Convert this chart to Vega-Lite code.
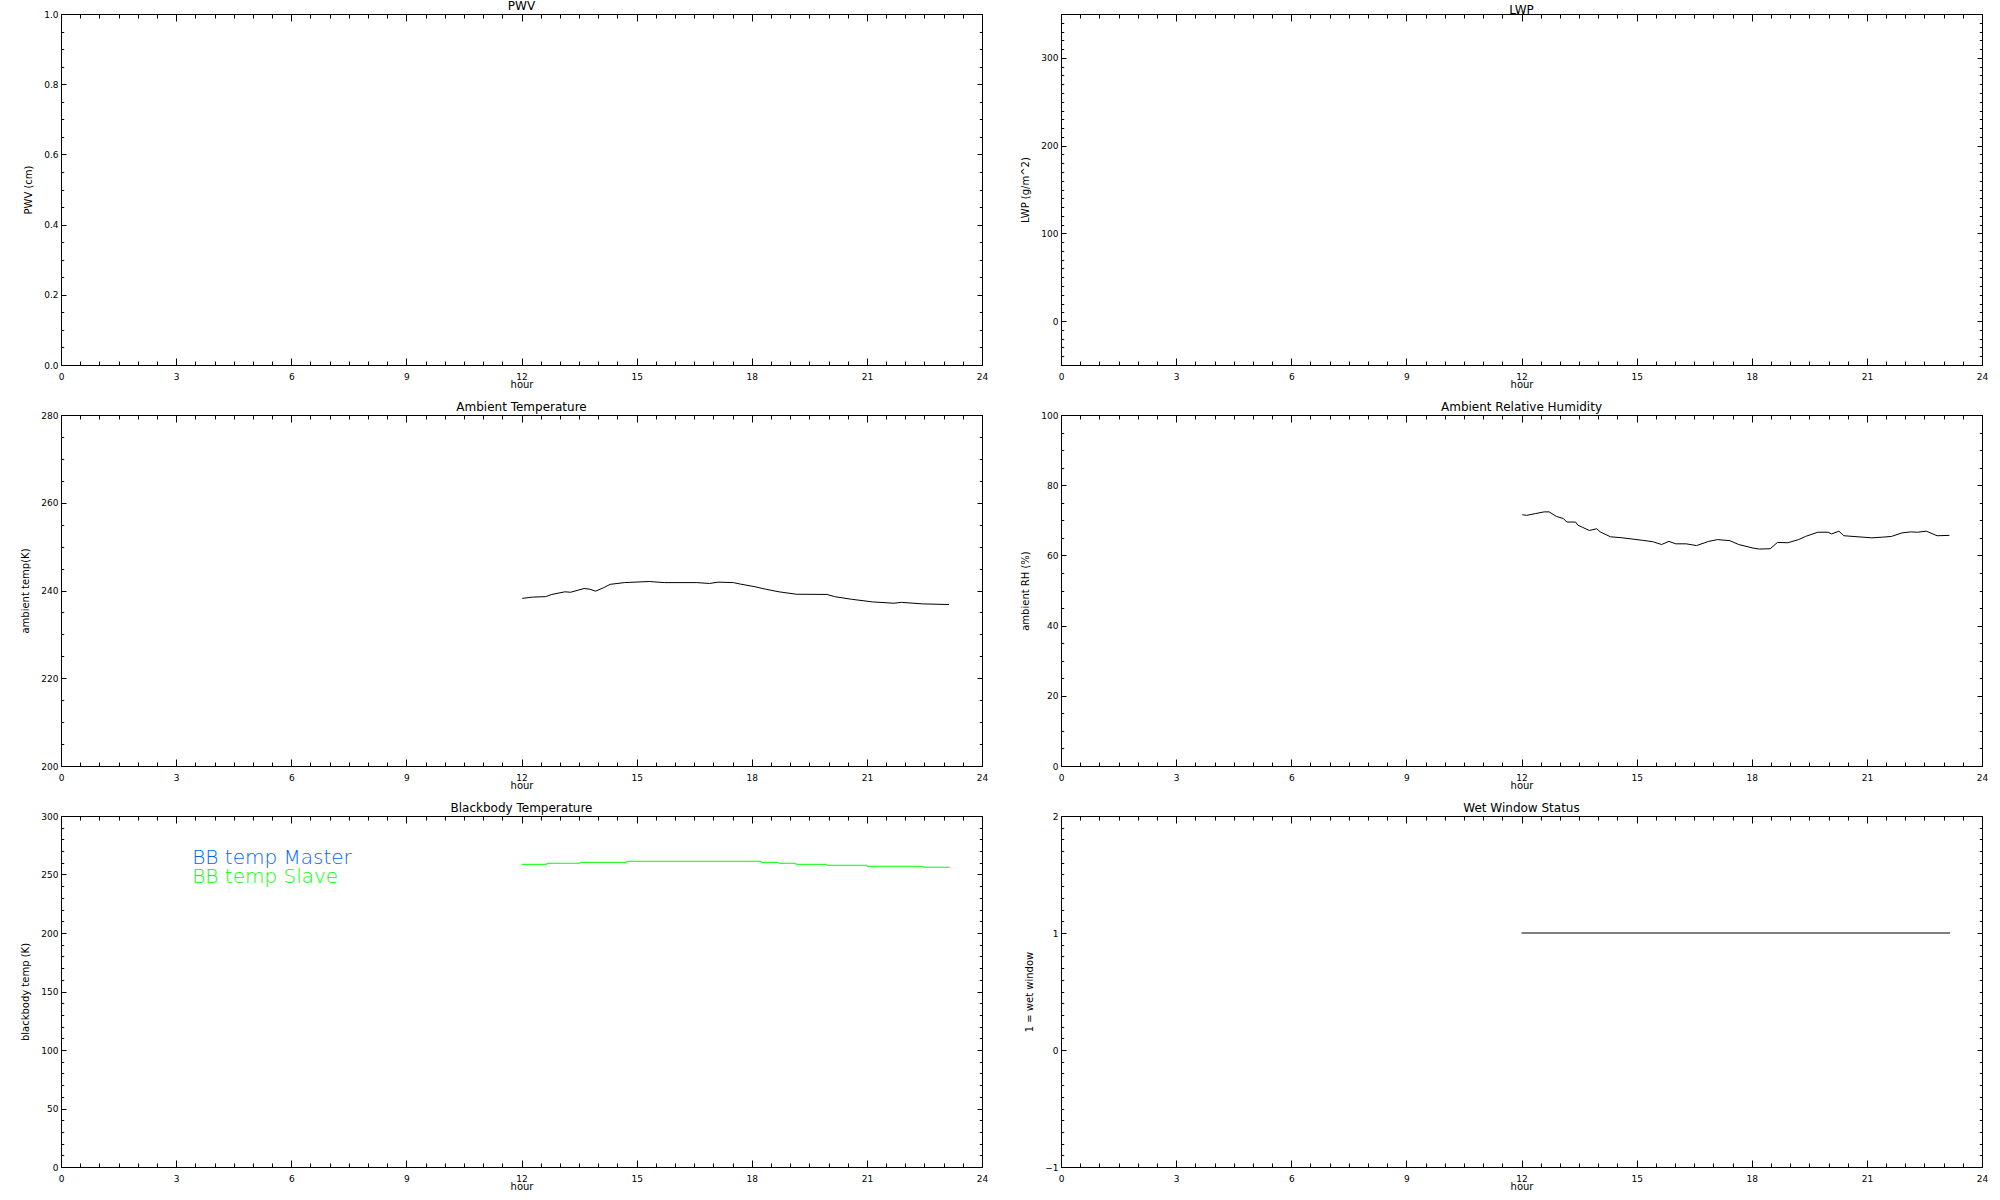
{
  "$schema": "https://vega.github.io/schema/vega-lite/v6.json",
  "background": "white",
  "padding": {"left": 20, "top": 0, "right": 5, "bottom": 0},
  "columns": 2,
  "spacing": {"row": 50, "column": 79},
  "bounds": "flush",
  "datasets": {
    "empty": [],
    "temp": [
      {"hour": 12.02, "value": 238.2}, {"hour": 12.29, "value": 238.5}, {"hour": 12.63, "value": 238.6}, {"hour": 12.79, "value": 239.1},
      {"hour": 13.13, "value": 239.7}, {"hour": 13.28, "value": 239.6}, {"hour": 13.63, "value": 240.45}, {"hour": 13.78, "value": 240.3},
      {"hour": 13.93, "value": 239.85}, {"hour": 14.13, "value": 240.6}, {"hour": 14.31, "value": 241.4}, {"hour": 14.68, "value": 241.8},
      {"hour": 15.33, "value": 242.05}, {"hour": 15.72, "value": 241.8}, {"hour": 16.57, "value": 241.8}, {"hour": 16.9, "value": 241.6},
      {"hour": 17.12, "value": 241.9}, {"hour": 17.52, "value": 241.8}, {"hour": 17.71, "value": 241.45}, {"hour": 18.06, "value": 240.9},
      {"hour": 18.36, "value": 240.3}, {"hour": 18.71, "value": 239.7}, {"hour": 19.16, "value": 239.15}, {"hour": 19.96, "value": 239.1},
      {"hour": 20.16, "value": 238.6}, {"hour": 20.6, "value": 238.0}, {"hour": 21.15, "value": 237.4}, {"hour": 21.7, "value": 237.1},
      {"hour": 21.9, "value": 237.3}, {"hour": 22.45, "value": 236.95}, {"hour": 23.14, "value": 236.8}
    ],
    "rh": [
      {"hour": 12.02, "value": 71.6}, {"hour": 12.13, "value": 71.4}, {"hour": 12.36, "value": 71.9}, {"hour": 12.59, "value": 72.4},
      {"hour": 12.72, "value": 72.4}, {"hour": 12.91, "value": 71.1}, {"hour": 13.09, "value": 70.5}, {"hour": 13.18, "value": 69.5},
      {"hour": 13.41, "value": 69.5}, {"hour": 13.47, "value": 68.6}, {"hour": 13.59, "value": 68.0}, {"hour": 13.77, "value": 67.1},
      {"hour": 13.96, "value": 67.6}, {"hour": 14.05, "value": 66.7}, {"hour": 14.32, "value": 65.3}, {"hour": 14.64, "value": 65.0},
      {"hour": 15.15, "value": 64.3}, {"hour": 15.42, "value": 63.9}, {"hour": 15.65, "value": 63.1}, {"hour": 15.84, "value": 64.0},
      {"hour": 16.02, "value": 63.3}, {"hour": 16.29, "value": 63.3}, {"hour": 16.56, "value": 62.8}, {"hour": 16.88, "value": 64.0},
      {"hour": 17.11, "value": 64.5}, {"hour": 17.43, "value": 64.2}, {"hour": 17.66, "value": 63.1}, {"hour": 18.03, "value": 62.1},
      {"hour": 18.2, "value": 61.8}, {"hour": 18.48, "value": 61.9}, {"hour": 18.67, "value": 63.7}, {"hour": 18.94, "value": 63.6},
      {"hour": 19.22, "value": 64.5}, {"hour": 19.4, "value": 65.4}, {"hour": 19.72, "value": 66.6}, {"hour": 19.99, "value": 66.6},
      {"hour": 20.08, "value": 66.1}, {"hour": 20.27, "value": 66.9}, {"hour": 20.4, "value": 65.6}, {"hour": 20.77, "value": 65.3},
      {"hour": 21.13, "value": 65.0}, {"hour": 21.41, "value": 65.2}, {"hour": 21.64, "value": 65.4}, {"hour": 21.91, "value": 66.4},
      {"hour": 22.14, "value": 66.7}, {"hour": 22.32, "value": 66.6}, {"hour": 22.55, "value": 66.9}, {"hour": 22.83, "value": 65.6},
      {"hour": 23.15, "value": 65.7}
    ],
    "bb": [
      {"hour": 12.0, "value": 258.7}, {"hour": 12.66, "value": 259.6}, {"hour": 13.53, "value": 260.4}, {"hour": 14.73, "value": 261.3},
      {"hour": 18.24, "value": 260.4}, {"hour": 18.7, "value": 259.6}, {"hour": 19.15, "value": 258.7}, {"hour": 19.96, "value": 257.9},
      {"hour": 21.0, "value": 257.0}, {"hour": 22.47, "value": 256.2}, {"hour": 23.16, "value": 256.2}
    ],
    "wet": [
      {"hour": 12.0, "value": 1}, {"hour": 23.17, "value": 1}
    ],
    "bblegend": [
      {"label": "BB temp Master", "series": "Master", "hour": 3.42, "value": 259.0},
      {"label": "BB temp Slave", "series": "Slave", "hour": 3.42, "value": 242.7}
    ]
  },
  "concat": [
    {
      "title": {"text": "PWV"},
      "width": 921, "height": 351,
      "data": {"name": "empty"},
      "resolve": {"axis": {"x": "independent", "y": "independent"}},
      "layer": [
        {"mark": {"type": "line", "color": "#000000", "strokeWidth": 1},
         "encoding": {
           "x": {"field": "hour", "type": "quantitative", "scale": {"domain": [0, 24], "nice": false}, "axis": {"orient": "bottom", "values": [0, 3, 6, 9, 12, 15, 18, 21, 24], "tickSize": -7, "labelPadding": 14, "title": "hour", "titlePadding": -1.5}},
           "y": {"field": "value", "type": "quantitative", "scale": {"domain": [0, 1], "nice": false, "zero": false}, "axis": {"orient": "left", "values": [0, 0.2, 0.4, 0.6, 0.8, 1], "format": ".1f", "tickSize": -5, "labelPadding": 8, "title": "PWV (cm)", "titlePadding": 10}}}},
        {"mark": {"type": "line", "opacity": 0},
         "encoding": {
           "x": {"field": "hour", "type": "quantitative", "scale": {"domain": [0, 24], "nice": false}, "axis": {"orient": "bottom", "tickCount": 48, "tickSize": -4, "labels": false, "domain": false, "title": null}},
           "y": {"field": "value", "type": "quantitative", "scale": {"domain": [0, 1], "nice": false, "zero": false}, "axis": {"orient": "left", "tickCount": 20, "tickSize": -2.7, "labels": false, "domain": false, "title": null}}}},
        {"mark": {"type": "line", "opacity": 0},
         "encoding": {
           "x": {"field": "hour", "type": "quantitative", "scale": {"domain": [0, 24], "nice": false}, "axis": {"orient": "top", "values": [0, 3, 6, 9, 12, 15, 18, 21, 24], "tickSize": -7, "labels": false, "title": null}},
           "y": {"field": "value", "type": "quantitative", "scale": {"domain": [0, 1], "nice": false, "zero": false}, "axis": {"orient": "right", "values": [0, 0.2, 0.4, 0.6, 0.8, 1], "tickSize": -5, "labels": false, "title": null}}}},
        {"mark": {"type": "line", "opacity": 0},
         "encoding": {
           "x": {"field": "hour", "type": "quantitative", "scale": {"domain": [0, 24], "nice": false}, "axis": {"orient": "top", "tickCount": 48, "tickSize": -4, "labels": false, "domain": false, "title": null}},
           "y": {"field": "value", "type": "quantitative", "scale": {"domain": [0, 1], "nice": false, "zero": false}, "axis": {"orient": "right", "tickCount": 20, "tickSize": -2.7, "labels": false, "domain": false, "title": null}}}}
      ]
    },
    {
      "title": {"text": "LWP"},
      "width": 921, "height": 351,
      "data": {"name": "empty"},
      "resolve": {"axis": {"x": "independent", "y": "independent"}},
      "layer": [
        {"mark": {"type": "line", "color": "#000000", "strokeWidth": 1},
         "encoding": {
           "x": {"field": "hour", "type": "quantitative", "scale": {"domain": [0, 24], "nice": false}, "axis": {"orient": "bottom", "values": [0, 3, 6, 9, 12, 15, 18, 21, 24], "tickSize": -7, "labelPadding": 14, "title": "hour", "titlePadding": -1.5}},
           "y": {"field": "value", "type": "quantitative", "scale": {"domain": [-50, 350], "nice": false, "zero": false}, "axis": {"orient": "left", "values": [0, 100, 200, 300], "tickSize": -5, "labelPadding": 8, "title": "LWP (g/m^2)", "titlePadding": 10}}}},
        {"mark": {"type": "line", "opacity": 0},
         "encoding": {
           "x": {"field": "hour", "type": "quantitative", "scale": {"domain": [0, 24], "nice": false}, "axis": {"orient": "bottom", "tickCount": 48, "tickSize": -4, "labels": false, "domain": false, "title": null}},
           "y": {"field": "value", "type": "quantitative", "scale": {"domain": [-50, 350], "nice": false, "zero": false}, "axis": {"orient": "left", "tickCount": 40, "tickSize": -2.7, "labels": false, "domain": false, "title": null}}}},
        {"mark": {"type": "line", "opacity": 0},
         "encoding": {
           "x": {"field": "hour", "type": "quantitative", "scale": {"domain": [0, 24], "nice": false}, "axis": {"orient": "top", "values": [0, 3, 6, 9, 12, 15, 18, 21, 24], "tickSize": -7, "labels": false, "title": null}},
           "y": {"field": "value", "type": "quantitative", "scale": {"domain": [-50, 350], "nice": false, "zero": false}, "axis": {"orient": "right", "values": [0, 100, 200, 300], "tickSize": -5, "labels": false, "title": null}}}},
        {"mark": {"type": "line", "opacity": 0},
         "encoding": {
           "x": {"field": "hour", "type": "quantitative", "scale": {"domain": [0, 24], "nice": false}, "axis": {"orient": "top", "tickCount": 48, "tickSize": -4, "labels": false, "domain": false, "title": null}},
           "y": {"field": "value", "type": "quantitative", "scale": {"domain": [-50, 350], "nice": false, "zero": false}, "axis": {"orient": "right", "tickCount": 40, "tickSize": -2.7, "labels": false, "domain": false, "title": null}}}}
      ]
    },
    {
      "title": {"text": "Ambient Temperature"},
      "width": 921, "height": 351,
      "data": {"name": "temp"},
      "resolve": {"axis": {"x": "independent", "y": "independent"}},
      "layer": [
        {"mark": {"type": "line", "color": "#000000", "strokeWidth": 1},
         "encoding": {
           "x": {"field": "hour", "type": "quantitative", "scale": {"domain": [0, 24], "nice": false}, "axis": {"orient": "bottom", "values": [0, 3, 6, 9, 12, 15, 18, 21, 24], "tickSize": -7, "labelPadding": 14, "title": "hour", "titlePadding": -1.5}},
           "y": {"field": "value", "type": "quantitative", "scale": {"domain": [200, 280], "nice": false, "zero": false}, "axis": {"orient": "left", "values": [200, 220, 240, 260, 280], "tickSize": -5, "labelPadding": 8, "title": "ambient temp(K)", "titlePadding": 10}}}},
        {"mark": {"type": "line", "opacity": 0},
         "encoding": {
           "x": {"field": "hour", "type": "quantitative", "scale": {"domain": [0, 24], "nice": false}, "axis": {"orient": "bottom", "tickCount": 48, "tickSize": -4, "labels": false, "domain": false, "title": null}},
           "y": {"field": "value", "type": "quantitative", "scale": {"domain": [200, 280], "nice": false, "zero": false}, "axis": {"orient": "left", "tickCount": 16, "tickSize": -2.7, "labels": false, "domain": false, "title": null}}}},
        {"mark": {"type": "line", "opacity": 0},
         "encoding": {
           "x": {"field": "hour", "type": "quantitative", "scale": {"domain": [0, 24], "nice": false}, "axis": {"orient": "top", "values": [0, 3, 6, 9, 12, 15, 18, 21, 24], "tickSize": -7, "labels": false, "title": null}},
           "y": {"field": "value", "type": "quantitative", "scale": {"domain": [200, 280], "nice": false, "zero": false}, "axis": {"orient": "right", "values": [200, 220, 240, 260, 280], "tickSize": -5, "labels": false, "title": null}}}},
        {"mark": {"type": "line", "opacity": 0},
         "encoding": {
           "x": {"field": "hour", "type": "quantitative", "scale": {"domain": [0, 24], "nice": false}, "axis": {"orient": "top", "tickCount": 48, "tickSize": -4, "labels": false, "domain": false, "title": null}},
           "y": {"field": "value", "type": "quantitative", "scale": {"domain": [200, 280], "nice": false, "zero": false}, "axis": {"orient": "right", "tickCount": 16, "tickSize": -2.7, "labels": false, "domain": false, "title": null}}}}
      ]
    },
    {
      "title": {"text": "Ambient Relative Humidity"},
      "width": 921, "height": 351,
      "data": {"name": "rh"},
      "resolve": {"axis": {"x": "independent", "y": "independent"}},
      "layer": [
        {"mark": {"type": "line", "color": "#000000", "strokeWidth": 1},
         "encoding": {
           "x": {"field": "hour", "type": "quantitative", "scale": {"domain": [0, 24], "nice": false}, "axis": {"orient": "bottom", "values": [0, 3, 6, 9, 12, 15, 18, 21, 24], "tickSize": -7, "labelPadding": 14, "title": "hour", "titlePadding": -1.5}},
           "y": {"field": "value", "type": "quantitative", "scale": {"domain": [0, 100], "nice": false, "zero": false}, "axis": {"orient": "left", "values": [0, 20, 40, 60, 80, 100], "tickSize": -5, "labelPadding": 8, "title": "ambient RH (%)", "titlePadding": 10}}}},
        {"mark": {"type": "line", "opacity": 0},
         "encoding": {
           "x": {"field": "hour", "type": "quantitative", "scale": {"domain": [0, 24], "nice": false}, "axis": {"orient": "bottom", "tickCount": 48, "tickSize": -4, "labels": false, "domain": false, "title": null}},
           "y": {"field": "value", "type": "quantitative", "scale": {"domain": [0, 100], "nice": false, "zero": false}, "axis": {"orient": "left", "tickCount": 20, "tickSize": -2.7, "labels": false, "domain": false, "title": null}}}},
        {"mark": {"type": "line", "opacity": 0},
         "encoding": {
           "x": {"field": "hour", "type": "quantitative", "scale": {"domain": [0, 24], "nice": false}, "axis": {"orient": "top", "values": [0, 3, 6, 9, 12, 15, 18, 21, 24], "tickSize": -7, "labels": false, "title": null}},
           "y": {"field": "value", "type": "quantitative", "scale": {"domain": [0, 100], "nice": false, "zero": false}, "axis": {"orient": "right", "values": [0, 20, 40, 60, 80, 100], "tickSize": -5, "labels": false, "title": null}}}},
        {"mark": {"type": "line", "opacity": 0},
         "encoding": {
           "x": {"field": "hour", "type": "quantitative", "scale": {"domain": [0, 24], "nice": false}, "axis": {"orient": "top", "tickCount": 48, "tickSize": -4, "labels": false, "domain": false, "title": null}},
           "y": {"field": "value", "type": "quantitative", "scale": {"domain": [0, 100], "nice": false, "zero": false}, "axis": {"orient": "right", "tickCount": 20, "tickSize": -2.7, "labels": false, "domain": false, "title": null}}}}
      ]
    },
    {
      "title": {"text": "Blackbody Temperature"},
      "width": 921, "height": 351,
      "data": {"name": "bb"},
      "resolve": {"axis": {"x": "independent", "y": "independent"}},
      "layer": [
        {"mark": {"type": "line", "color": "#00ff00", "strokeWidth": 1, "interpolate": "step-after"},
         "encoding": {
           "x": {"field": "hour", "type": "quantitative", "scale": {"domain": [0, 24], "nice": false}, "axis": {"orient": "bottom", "values": [0, 3, 6, 9, 12, 15, 18, 21, 24], "tickSize": -7, "labelPadding": 14, "title": "hour", "titlePadding": -1.5}},
           "y": {"field": "value", "type": "quantitative", "scale": {"domain": [0, 300], "nice": false, "zero": false}, "axis": {"orient": "left", "values": [0, 50, 100, 150, 200, 250, 300], "tickSize": -5, "labelPadding": 8, "title": "blackbody temp (K)", "titlePadding": 10}}}},
        {"mark": {"type": "line", "opacity": 0},
         "encoding": {
           "x": {"field": "hour", "type": "quantitative", "scale": {"domain": [0, 24], "nice": false}, "axis": {"orient": "bottom", "tickCount": 48, "tickSize": -4, "labels": false, "domain": false, "title": null}},
           "y": {"field": "value", "type": "quantitative", "scale": {"domain": [0, 300], "nice": false, "zero": false}, "axis": {"orient": "left", "tickCount": 30, "tickSize": -2.7, "labels": false, "domain": false, "title": null}}}},
        {"mark": {"type": "line", "opacity": 0},
         "encoding": {
           "x": {"field": "hour", "type": "quantitative", "scale": {"domain": [0, 24], "nice": false}, "axis": {"orient": "top", "values": [0, 3, 6, 9, 12, 15, 18, 21, 24], "tickSize": -7, "labels": false, "title": null}},
           "y": {"field": "value", "type": "quantitative", "scale": {"domain": [0, 300], "nice": false, "zero": false}, "axis": {"orient": "right", "values": [0, 50, 100, 150, 200, 250, 300], "tickSize": -5, "labels": false, "title": null}}}},
        {"mark": {"type": "line", "opacity": 0},
         "encoding": {
           "x": {"field": "hour", "type": "quantitative", "scale": {"domain": [0, 24], "nice": false}, "axis": {"orient": "top", "tickCount": 48, "tickSize": -4, "labels": false, "domain": false, "title": null}},
           "y": {"field": "value", "type": "quantitative", "scale": {"domain": [0, 300], "nice": false, "zero": false}, "axis": {"orient": "right", "tickCount": 30, "tickSize": -2.7, "labels": false, "domain": false, "title": null}}}},
        {"data": {"name": "bblegend"},
         "mark": {"type": "text", "align": "left", "baseline": "alphabetic", "fontSize": 20, "font": "DejaVu Sans", "fontWeight": 200},
         "encoding": {
           "x": {"field": "hour", "type": "quantitative", "scale": {"domain": [0, 24], "nice": false}, "axis": null},
           "y": {"field": "value", "type": "quantitative", "scale": {"domain": [0, 300], "nice": false, "zero": false}, "axis": null},
           "text": {"field": "label"},
           "color": {"field": "series", "type": "nominal", "scale": {"domain": ["Master", "Slave"], "range": ["#0064ff", "#00ff00"]}, "legend": null}}}
      ]
    },
    {
      "title": {"text": "Wet Window Status"},
      "width": 921, "height": 351,
      "data": {"name": "wet"},
      "resolve": {"axis": {"x": "independent", "y": "independent"}},
      "layer": [
        {"mark": {"type": "line", "color": "#000000", "strokeWidth": 1},
         "encoding": {
           "x": {"field": "hour", "type": "quantitative", "scale": {"domain": [0, 24], "nice": false}, "axis": {"orient": "bottom", "values": [0, 3, 6, 9, 12, 15, 18, 21, 24], "tickSize": -7, "labelPadding": 14, "title": "hour", "titlePadding": -1.5}},
           "y": {"field": "value", "type": "quantitative", "scale": {"domain": [-1, 2], "nice": false, "zero": false}, "axis": {"orient": "left", "values": [-1, 0, 1, 2], "tickSize": -5, "labelPadding": 8, "title": "1 = wet window", "titlePadding": 10}}}},
        {"mark": {"type": "line", "opacity": 0},
         "encoding": {
           "x": {"field": "hour", "type": "quantitative", "scale": {"domain": [0, 24], "nice": false}, "axis": {"orient": "bottom", "tickCount": 48, "tickSize": -4, "labels": false, "domain": false, "title": null}},
           "y": {"field": "value", "type": "quantitative", "scale": {"domain": [-1, 2], "nice": false, "zero": false}, "axis": {"orient": "left", "tickCount": 30, "tickSize": -2.7, "labels": false, "domain": false, "title": null}}}},
        {"mark": {"type": "line", "opacity": 0},
         "encoding": {
           "x": {"field": "hour", "type": "quantitative", "scale": {"domain": [0, 24], "nice": false}, "axis": {"orient": "top", "values": [0, 3, 6, 9, 12, 15, 18, 21, 24], "tickSize": -7, "labels": false, "title": null}},
           "y": {"field": "value", "type": "quantitative", "scale": {"domain": [-1, 2], "nice": false, "zero": false}, "axis": {"orient": "right", "values": [-1, 0, 1, 2], "tickSize": -5, "labels": false, "title": null}}}},
        {"mark": {"type": "line", "opacity": 0},
         "encoding": {
           "x": {"field": "hour", "type": "quantitative", "scale": {"domain": [0, 24], "nice": false}, "axis": {"orient": "top", "tickCount": 48, "tickSize": -4, "labels": false, "domain": false, "title": null}},
           "y": {"field": "value", "type": "quantitative", "scale": {"domain": [-1, 2], "nice": false, "zero": false}, "axis": {"orient": "right", "tickCount": 30, "tickSize": -2.7, "labels": false, "domain": false, "title": null}}}}
      ]
    }
  ],
  "config": {
    "view": {"stroke": null},
    "axis": {
      "grid": false,
      "domainColor": "#000000", "domainWidth": 1,
      "tickColor": "#000000", "tickWidth": 1,
      "labelColor": "#000000", "labelFont": "DejaVu Sans", "labelFontSize": 9,
      "titleColor": "#000000", "titleFont": "DejaVu Sans", "titleFontSize": 10, "titleFontWeight": "normal",
      "labelFlush": false, "labelOverlap": false
    },
    "title": {"font": "DejaVu Sans", "fontSize": 12, "fontWeight": "normal", "color": "#000000", "offset": -3, "anchor": "middle"}
  }
}
